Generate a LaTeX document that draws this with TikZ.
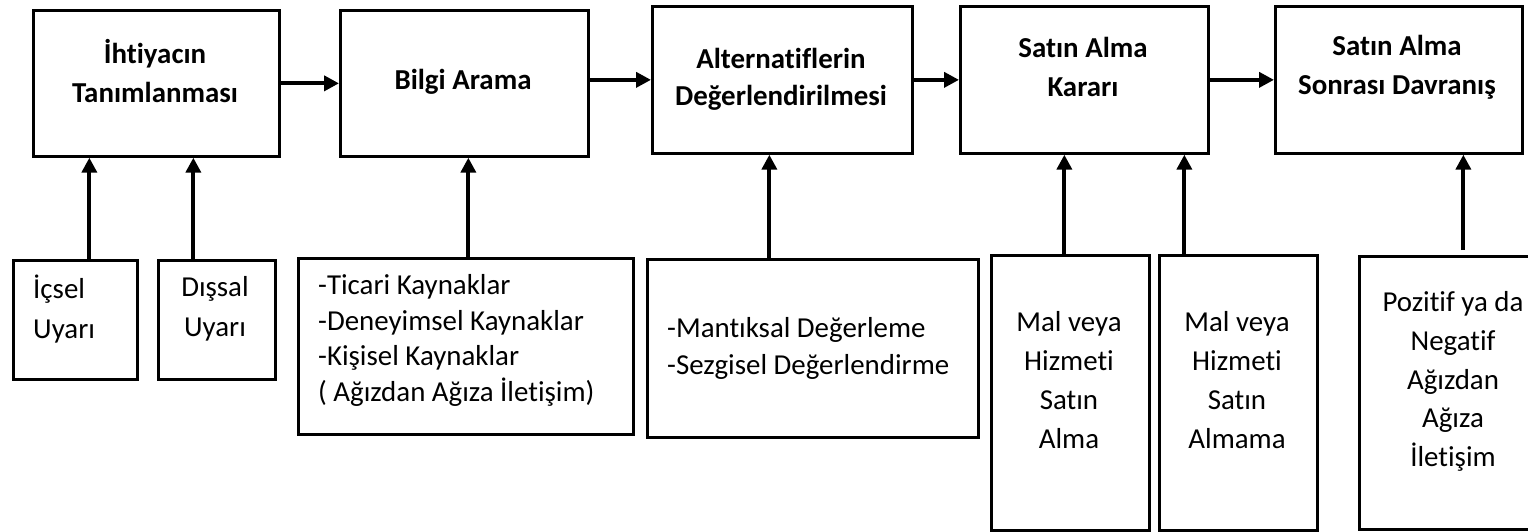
\documentclass[tikz,border=0pt]{standalone}
\usepackage{fontspec}
\setmainfont{Carlito}[Ligatures=NoCommon]
\usetikzlibrary{arrows.meta}
\begin{document}
\begin{tikzpicture}[x=1pt,y=-1pt,
  boxs/.style={draw, line width=2.7pt, inner sep=0pt, anchor=north west},
  ttl/.style={font=\bfseries\fontsize{28.9}{#1}\selectfont, align=center, inner sep=0pt},
  txt/.style={font=\fontsize{28.9}{#1}\selectfont, align=center, inner sep=0pt},
  ltxt/.style={font=\fontsize{28.9}{#1}\selectfont, align=left, inner sep=0pt, anchor=west},
  arr/.style={line width=4pt, -{Triangle[length=15pt,width=15pt]}}]
\useasboundingbox (0,0) rectangle (1528,532);
\clip (0,0) rectangle (1528,532);
% top boxes
\node[boxs, minimum width=246pt, minimum height=146pt] (b1) at (32,9) {};
\node[boxs, minimum width=248pt, minimum height=146pt] (b2) at (339,9) {};
\node[boxs, minimum width=260pt, minimum height=147pt] (b3) at (651,5) {};
\node[boxs, minimum width=248pt, minimum height=147pt] (b4) at (959,5) {};
\node[boxs, minimum width=247pt, minimum height=147pt] (b5) at (1274,5) {};
\node[ttl=39] (t1) at (155,71.5) {İhtiyacın\\Tanımlanması};
\node[ttl=39] (t2) at (463,82) {Bilgi Arama};
\node[ttl=37] (t3) at (781,79.5) {Alternatiflerin\\Değerlendirilmesi};
\node[ttl=39] (t4) at (1083,66.5) {Satın Alma\\Kararı};
\node[ttl=39] (t5) at (1397,67.5) {Satın Alma\\Sonrası Davranış};
% bottom boxes
\node[boxs, minimum width=124pt, minimum height=119pt] (l1) at (12,259) {};
\node[boxs, minimum width=117pt, minimum height=119pt] (l2) at (157,259) {};
\node[boxs, minimum width=335pt, minimum height=176pt] (l3) at (297,257) {};
\node[boxs, minimum width=331pt, minimum height=178pt] (l4) at (646,258) {};
\node[boxs, minimum width=158pt, minimum height=275pt] (l5) at (990,254) {};
\node[boxs, minimum width=158pt, minimum height=275pt] (l6) at (1158,254) {};
\node[boxs, minimum width=190pt, minimum height=273pt] (l7) at (1358,255) {};
\node[ltxt=40] (s1) at (33,309) {İçsel\\Uyarı};
\node[txt=40] (s2) at (215,309) {Dışsal\\Uyarı};
\node[ltxt=35.7] (s3) at (318,340.5) {-Ticari Kaynaklar\\-Deneyimsel Kaynaklar\\-Kişisel Kaynaklar\\( Ağızdan Ağıza İletişim)};
\node[ltxt=37] (s4) at (667,348.5) {-Mantıksal Değerleme\\-Sezgisel Değerlendirme};
\node[txt=39] (s5) at (1069,380) {Mal veya\\Hizmeti\\Satın\\Alma};
\node[txt=39] (s6) at (1237,380) {Mal veya\\Hizmeti\\Satın\\Almama};
\node[txt=38.75] (s7) at (1453,381.5) {Pozitif ya da\\Negatif\\Ağızdan\\Ağıza\\İletişim};
% horizontal arrows
\draw[arr] (b1.east) -- (b2.west);
\draw[arr] (b2.east |- b3.west) -- (b3.west);
\draw[arr] (b3.east) -- (b4.west);
\draw[arr] (b4.east) -- (b5.west);
% vertical arrows
\draw[arr] ([xshift=14pt]l1.north) -- ([xshift=14pt]l1.north |- b1.south);
\draw[arr] ([xshift=-23.5pt]l2.north) -- ([xshift=-23.5pt]l2.north |- b1.south);
\draw[arr] ([xshift=2.5pt]l3.north) -- ([xshift=2.5pt]l3.north |- b2.south);
\draw[arr] ([xshift=-43.5pt]l4.north) -- ([xshift=-43.5pt]l4.north |- b3.south);
\draw[arr] ([xshift=-6pt]l5.north) -- ([xshift=-6pt]l5.north |- b4.south);
\draw[arr] ([xshift=-54pt]l6.north) -- ([xshift=-54pt]l6.north |- b4.south);
\draw[arr] ([xshift=9pt,yshift=5pt]l7.north) -- ([xshift=9pt]l7.north |- b5.south);
\end{tikzpicture}
\end{document}
